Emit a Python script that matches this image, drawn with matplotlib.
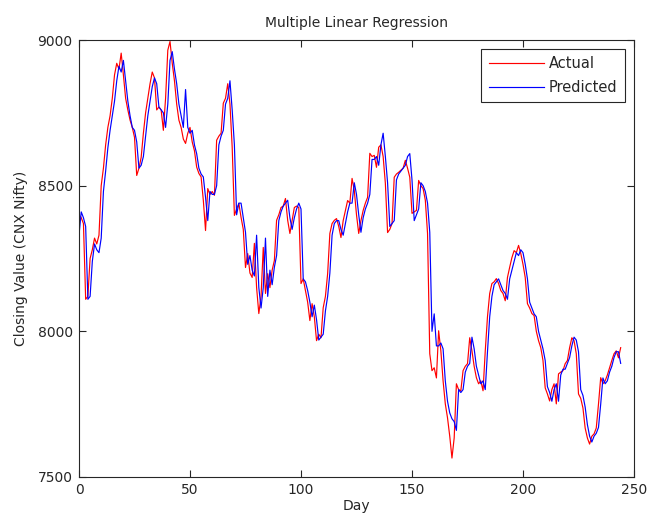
import matplotlib
matplotlib.use("Agg")
import matplotlib.pyplot as plt
import numpy as np

# Tagesschlusskurse CNX Nifty, Tag 0..244
actual = [
    8400, 8390, 8370, 8110, 8120, 8250, 8280, 8320, 8300, 8330,
    8500, 8560, 8640, 8700, 8740, 8800, 8880, 8920, 8900, 8955,
    8880, 8800, 8760, 8725, 8700, 8666, 8535, 8560, 8597, 8680,
    8750, 8800, 8850, 8890, 8870, 8760, 8770, 8760, 8690, 8800,
    8965, 8995, 8920, 8860, 8780, 8725, 8700, 8660, 8645, 8680,
    8700, 8650, 8620, 8564, 8542, 8530, 8450, 8346, 8490, 8470,
    8480, 8467, 8656, 8670, 8680, 8783, 8800, 8850, 8780, 8632,
    8398, 8420, 8439, 8391, 8350, 8219, 8267, 8200, 8185, 8302,
    8150, 8061, 8120, 8288, 8130, 8198, 8150, 8210, 8243, 8381,
    8400, 8425, 8430, 8456, 8381, 8336, 8380, 8425, 8430, 8425,
    8164, 8180, 8140, 8100, 8037, 8095, 8050, 7968, 7990, 7978,
    8081, 8120, 8198, 8336, 8370, 8381, 8387, 8360, 8322, 8380,
    8415, 8449, 8440, 8525, 8484, 8400, 8336, 8380, 8415, 8440,
    8460, 8611, 8600, 8604, 8563, 8632, 8640, 8600, 8508, 8339,
    8350, 8370, 8529, 8540, 8546, 8553, 8560, 8587, 8560, 8529,
    8405, 8410, 8415, 8518, 8500, 8490, 8450, 8336, 7923, 7865,
    7875, 7840, 8002, 7933, 7830, 7751, 7703, 7640, 7565, 7634,
    7820, 7800, 7796, 7865, 7880, 7889, 7978, 7933, 7880, 7841,
    7820, 7830, 7796, 7933, 8050, 8130, 8164, 8170, 8181, 8164,
    8140, 8130, 8105, 8185, 8220, 8253, 8277, 8270, 8295, 8267,
    8230, 8185, 8095, 8080, 8061, 8054, 8000, 7968, 7944, 7900,
    7806, 7785, 7761, 7800, 7820, 7751, 7854, 7860, 7865, 7889,
    7900, 7944, 7978, 7968, 7923, 7785, 7770, 7737, 7668, 7634,
    7613, 7640, 7648, 7668, 7750, 7841, 7820, 7830, 7850, 7875,
    7900, 7923, 7933, 7909, 7944,
]

# Vorhersage der multiplen linearen Regression
predicted = [
    8330, 8410, 8390, 8360, 8110, 8120, 8240, 8300, 8280, 8270,
    8320, 8480, 8550, 8630, 8690, 8740, 8790, 8860, 8910, 8890,
    8930, 8860, 8790, 8740, 8700, 8690, 8650, 8560, 8570, 8600,
    8670, 8740, 8790, 8840, 8870, 8850, 8770, 8760, 8750, 8700,
    8780, 8930, 8960, 8900, 8850, 8780, 8740, 8700, 8830, 8700,
    8680, 8690, 8640, 8610, 8560, 8540, 8530, 8460, 8380, 8480,
    8470, 8470, 8500, 8640, 8670, 8690, 8780, 8800, 8860, 8760,
    8640, 8400, 8440, 8440, 8390, 8340, 8230, 8260, 8210, 8190,
    8330, 8150, 8080, 8150, 8320, 8120, 8210, 8160, 8220, 8260,
    8380, 8410, 8430, 8440, 8450, 8390, 8350, 8390, 8420, 8440,
    8420, 8180, 8170, 8140, 8100, 8050, 8090, 8040, 7970, 7980,
    7990, 8070, 8120, 8200, 8330, 8370, 8380, 8380, 8350, 8330,
    8370, 8410, 8440, 8440, 8510, 8470, 8400, 8340, 8390, 8420,
    8440, 8470, 8590, 8590, 8600, 8570, 8640, 8680, 8600, 8510,
    8360, 8370, 8380, 8520, 8540, 8550, 8560, 8570, 8600, 8610,
    8520, 8380, 8400, 8420, 8510, 8500, 8480, 8440, 8340, 8000,
    8060, 7950, 7950, 7960, 7940, 7830, 7760, 7720, 7700, 7690,
    7660, 7800, 7790, 7800, 7860, 7880, 7890, 7980, 7940, 7880,
    7850, 7820, 7830, 7800, 7930, 8050, 8120, 8160, 8170, 8180,
    8160, 8140, 8130, 8110, 8180, 8210, 8240, 8270, 8260, 8280,
    8270, 8230, 8180, 8100, 8080, 8060, 8050, 8000, 7970, 7940,
    7900, 7810, 7790, 7760, 7800, 7820, 7760, 7850, 7870, 7870,
    7890, 7910, 7950, 7980, 7970, 7930, 7800, 7780, 7740, 7680,
    7640, 7620, 7640, 7650, 7670, 7750, 7840, 7820, 7830, 7860,
    7880, 7910, 7930, 7930, 7890,
]

days = np.arange(len(actual))
x_ticks = [0, 50, 100, 150, 200, 250]
y_ticks = [7500, 8000, 8500, 9000]

plt.rcParams['font.family'] = ['DejaVu Sans']
plt.rcParams['font.size'] = 10
txt_color = '#262626'

fig = plt.figure(figsize=(6.47, 5.21), dpi=100)
ax = fig.add_axes([79 / 647, (521 - 477) / 521, (634 - 79) / 647, (477 - 40) / 521])

ax.plot(days, actual, color='#ff0000', lw=0.85, label='Actual')
ax.plot(days, predicted, color='#0000ff', lw=0.85, label='Predicted')

ax.set_xlim(0, 250)
ax.set_ylim(7500, 9000)
ax.set_xticks(x_ticks)
ax.set_yticks(y_ticks)
ax.tick_params(direction='in', top=True, right=True, length=5, width=0.8,
               colors=txt_color, labelsize=10, pad=4.5)
for s in ax.spines.values():
    s.set_color(txt_color)
    s.set_linewidth(0.8)

ax.set_title('Multiple Linear Regression', fontsize=10, pad=9, color=txt_color)
ax.set_xlabel('Day', fontsize=10, labelpad=1, color=txt_color)
ax.set_ylabel('Closing Value (CNX Nifty)', fontsize=10, labelpad=7, color=txt_color)

leg = ax.legend(loc='upper right', fontsize=10.5, fancybox=False, framealpha=1,
                edgecolor=txt_color, handlelength=3.8, borderaxespad=0.62,
                handletextpad=0.35, labelspacing=0.6, borderpad=0.5)
leg.get_frame().set_linewidth(0.8)
for t in leg.get_texts():
    t.set_color(txt_color)

plt.savefig('out.png', dpi=100)
